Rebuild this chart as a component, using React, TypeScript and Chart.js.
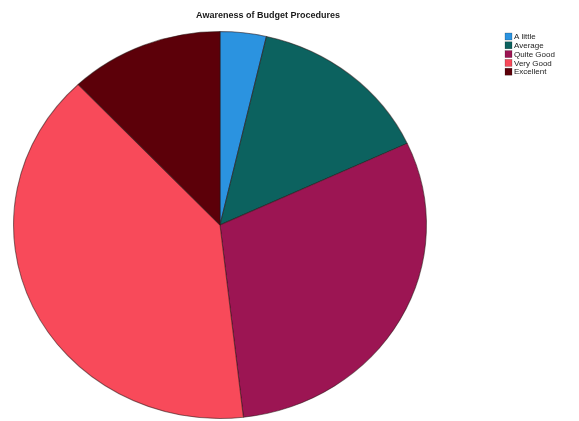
import React, { useEffect, useRef } from "react";
import { Chart, registerables } from "chart.js";

Chart.register(...registerables);

const categories = ["A little", "Average", "Quite Good", "Very Good", "Excellent"];
const counts = [3, 12, 25, 33, 10];
const colors = ["#2b93e0", "#0c625f", "#9c1553", "#f84a5a", "#5c0009"];
const titleText = "Awareness of Budget Procedures";

const FONT = "'Liberation Sans', Arial, sans-serif";

const ellipsePlugin = {
  id: "ellipse",
  beforeDatasetsDraw(chart: any) {
    const arc = chart.getDatasetMeta(0).data[0];
    if (!arc) return;
    const ctx = chart.ctx;
    ctx.save();
    ctx.translate(arc.x, arc.y);
    ctx.scale(1.067, 1);
    ctx.translate(-arc.x, -arc.y);
  },
  afterDatasetsDraw(chart: any) {
    chart.ctx.restore();
  },
};

const titlePlugin = {
  id: "customTitle",
  afterDraw(chart: any) {
    const ctx = chart.ctx;
    ctx.save();
    ctx.font = `bold 9px ${FONT}`;
    ctx.fillStyle = "#1a1a1a";
    ctx.textAlign = "center";
    ctx.textBaseline = "middle";
    ctx.fillText(titleText, 268, 16);
    ctx.restore();
  },
};

const legendPlugin = {
  id: "customLegend",
  afterDraw(chart: any) {
    const ctx = chart.ctx;
    const labels = chart.data.labels as string[];
    const bg = chart.data.datasets[0].backgroundColor as string[];
    ctx.save();
    ctx.font = `8px ${FONT}`;
    ctx.textBaseline = "middle";
    ctx.textAlign = "left";
    labels.forEach((l, i) => {
      const y = 36.5 + i * 8.8;
      ctx.fillStyle = bg[i];
      ctx.fillRect(505, y - 3.5, 7, 7);
      ctx.strokeStyle = "rgba(0,0,0,0.4)";
      ctx.lineWidth = 0.5;
      ctx.strokeRect(505, y - 3.5, 7, 7);
      ctx.fillStyle = "#222";
      ctx.fillText(l, 514, y + 0.5);
    });
    ctx.restore();
  },
};

export default function App() {
  const ref = useRef<HTMLCanvasElement>(null);
  useEffect(() => {
    if (!ref.current) return;
    const chart = new Chart(ref.current, {
      type: "pie",
      data: {
        labels: categories,
        datasets: [
          {
            data: counts,
            backgroundColor: colors,
            borderColor: "rgba(40,20,20,0.55)",
            borderWidth: 1,
          },
        ],
      },
      options: {
        animation: false,
        responsive: true,
        maintainAspectRatio: false,
        events: [],
        layout: { padding: { top: 31, bottom: 2, left: 26, right: 165 } },
        plugins: {
          legend: { display: false },
          title: { display: false },
          tooltip: { enabled: false },
        },
      },
      plugins: [ellipsePlugin, titlePlugin, legendPlugin],
    });
    return () => chart.destroy();
  }, []);
  return (
    <div style={{ position: "fixed", left: 0, top: 0, width: 579, height: 421, background: "#fff" }}>
      <canvas ref={ref} />
    </div>
  );
}
